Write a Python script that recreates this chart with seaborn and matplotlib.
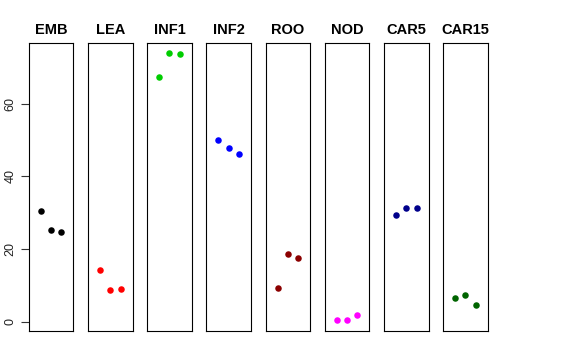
import matplotlib
matplotlib.use('Agg')
import matplotlib.pyplot as plt
import seaborn as sns
import pandas as pd

# tissues, one panel each, three replicates per panel
tissues = ["EMB", "LEA", "INF1", "INF2", "ROO", "NOD", "CAR5", "CAR15"]
replicate = [1, 2, 3]
emb = [30.5, 25.2, 24.7]
lea = [14.3, 8.8, 9.2]
inf1 = [67.3, 73.8, 73.6]
inf2 = [50.0, 47.7, 46.1]
roo = [9.4, 18.6, 17.6]
nod = [0.55, 0.46, 1.9]
car5 = [29.3, 31.3, 31.2]
car15 = [6.6, 7.4, 4.7]
values = [emb, lea, inf1, inf2, roo, nod, car5, car15]
colors = ["black", "#FF0000", "#00CD00", "#0000FF", "#8B0000", "#FF00FF", "#00008B", "#006400"]
y_ticks = [0, 20, 40, 60]

sns.set_style("white")
plt.rcParams['font.family'] = ['Liberation Sans', 'DejaVu Sans']

W, H = 576, 360
fig = plt.figure(figsize=(W / 100, H / 100), dpi=100)

lo = min(min(v) for v in values)
hi = max(max(v) for v in values)
ext = (hi - lo) * 0.04

left0, step, pw = 28.7, 59.2, 44.7
top, bottom = 42.7, 331.0

for i, (name, vals, col) in enumerate(zip(tissues, values, colors)):
    ax = fig.add_axes([(left0 + i * step) / W, (H - bottom) / H, pw / W, (bottom - top) / H])
    df = pd.DataFrame({"rep": replicate, "value": vals})
    sns.scatterplot(data=df, x="rep", y="value", color=col, s=22, linewidth=0, ax=ax)
    ax.set_xlim(2 - 2.17, 2 + 2.17)
    ax.set_ylim(lo - ext, hi + ext)
    ax.set_xlabel("")
    ax.set_ylabel("")
    ax.set_xticks([])
    ax.set_title(name, fontsize=10.5, fontweight="bold", pad=6, color="black")
    for sp in ax.spines.values():
        sp.set_visible(True)
        sp.set_color("black")
        sp.set_linewidth(0.8)
    if i == 0:
        ax.set_yticks(y_ticks)
        ax.set_yticklabels([str(t) for t in y_ticks], rotation=90, va="center", fontsize=9, color="#222222")
        ax.tick_params(axis="y", direction="out", length=6, width=0.8, pad=3, left=True, color="#333333")
    else:
        ax.set_yticks([])

fig.savefig("out.png", dpi=100)
